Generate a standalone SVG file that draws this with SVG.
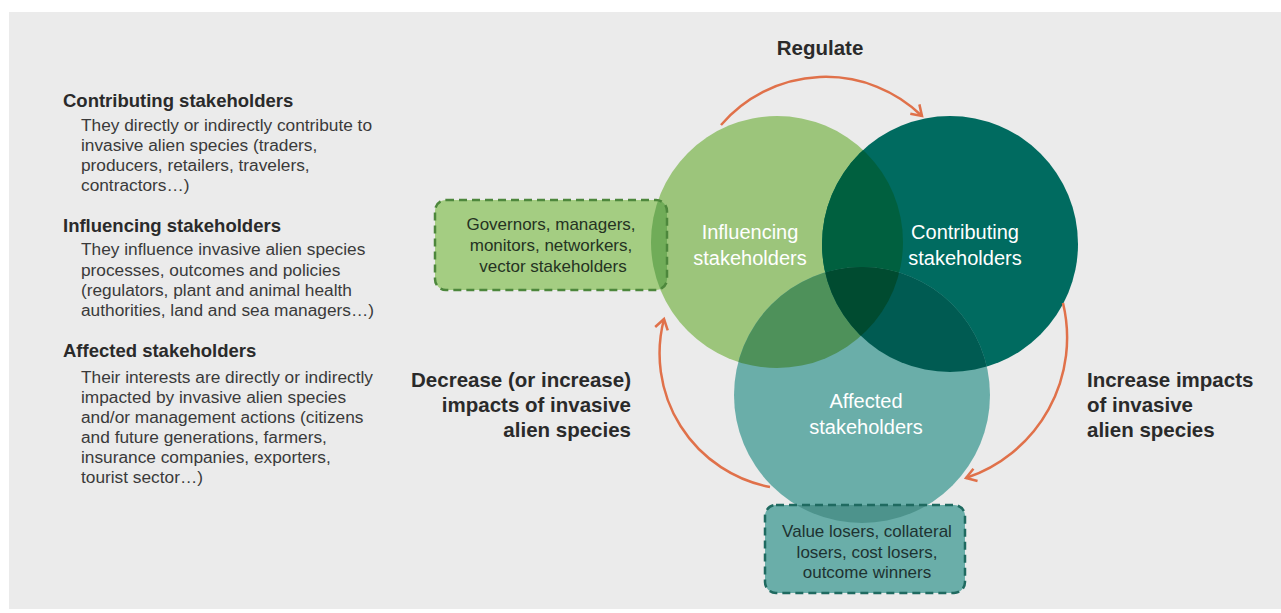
<svg xmlns="http://www.w3.org/2000/svg" width="1281" height="613" viewBox="0 0 1281 613">
<style>
.hd{font-family:"Liberation Sans",Arial,sans-serif;font-size:18.5px;font-weight:bold;fill:#2a2a2a}
.bd{font-family:"Liberation Sans",Arial,sans-serif;font-size:17.3px;fill:#3a3a3a}
.lb{font-family:"Liberation Sans",Arial,sans-serif;font-size:20.5px;font-weight:bold;fill:#2a2a2a}
.cl{font-family:"Liberation Sans",Arial,sans-serif;font-size:20px;fill:#ffffff;text-anchor:middle}
.bx{font-family:"Liberation Sans",Arial,sans-serif;font-size:17px;text-anchor:middle}
.arr{fill:none;stroke:#e0714a;stroke-width:2.5;marker-end:url(#ah)}
</style>
<defs>
<marker id="ah" markerUnits="userSpaceOnUse" viewBox="0 0 16 16" refX="13" refY="8" markerWidth="16" markerHeight="16" orient="auto">
<path d="M3,1.5 L13,8 L3,14.5" fill="none" stroke="#e0714a" stroke-width="2.5"/>
</marker>
<clipPath id="cI"><circle cx="777" cy="242" r="126"/></clipPath>
<clipPath id="cC"><circle cx="950" cy="244" r="128"/></clipPath>
<clipPath id="cA"><circle cx="862" cy="395" r="128"/></clipPath>
</defs>
<rect x="0" y="0" width="1281" height="613" fill="#ffffff"/>
<rect x="9" y="12" width="1272" height="597" fill="#ebebeb"/>

<g id="legend">
<text class="hd" x="63" y="107">Contributing stakeholders</text>
<text class="bd" x="81" y="131">They directly or indirectly contribute to</text>
<text class="bd" x="81" y="151">invasive alien species (traders,</text>
<text class="bd" x="81" y="171">producers, retailers, travelers,</text>
<text class="bd" x="81" y="191">contractors…)</text>
<text class="hd" x="63" y="232">Influencing stakeholders</text>
<text class="bd" x="81" y="255">They influence invasive alien species</text>
<text class="bd" x="81" y="276">processes, outcomes and policies</text>
<text class="bd" x="81" y="296">(regulators, plant and animal health</text>
<text class="bd" x="81" y="316">authorities, land and sea managers…)</text>
<text class="hd" x="63" y="357">Affected stakeholders</text>
<text class="bd" x="81" y="383">Their interests are directly or indirectly</text>
<text class="bd" x="81" y="403">impacted by invasive alien species</text>
<text class="bd" x="81" y="423">and/or management actions (citizens</text>
<text class="bd" x="81" y="443">and future generations, farmers,</text>
<text class="bd" x="81" y="463">insurance companies, exporters,</text>
<text class="bd" x="81" y="483">tourist sector…)</text>
</g>

<g id="influencing">
<circle cx="777" cy="242" r="126" fill="#9cc57b"/>
</g>
<g id="contributing">
<circle cx="950" cy="244" r="128" fill="#006b60"/>
<circle cx="950" cy="244" r="128" fill="#00603f" clip-path="url(#cI)"/>
</g>
<g id="affected">
<circle cx="862" cy="395" r="128" fill="#6aaea9"/>
<circle cx="862" cy="395" r="128" fill="#4e915a" clip-path="url(#cI)"/>
<g clip-path="url(#cC)">
<circle cx="862" cy="395" r="128" fill="#005b52"/>
<circle cx="862" cy="395" r="128" fill="#004b30" clip-path="url(#cI)"/>
</g>
</g>
<g id="circle-labels">
<text class="cl" x="750" y="239">Influencing</text>
<text class="cl" x="750" y="265">stakeholders</text>
<text class="cl" x="965" y="239">Contributing</text>
<text class="cl" x="965" y="265">stakeholders</text>
<text class="cl" x="866" y="408">Affected</text>
<text class="cl" x="866" y="434">stakeholders</text>
</g>

<g id="box-influencing">
<rect x="435" y="200" width="232" height="90" rx="11" fill="#a4cd82"/>
<rect x="435" y="200" width="232" height="90" rx="11" fill="#70ac58" clip-path="url(#cI)"/>
<rect x="435" y="200" width="232" height="90" rx="11" fill="none" stroke="#4d873c" stroke-width="2.5" stroke-dasharray="8,5"/>
<text class="bx" fill="#253322" x="551" y="230">Governors, managers,</text>
<text class="bx" fill="#253322" x="551" y="251">monitors, networkers,</text>
<text class="bx" fill="#253322" x="553" y="272">vector stakeholders</text>
</g>

<g id="box-affected">
<rect x="765" y="505" width="200" height="88" rx="11" fill="#6aaea9"/>
<rect x="765" y="505" width="200" height="88" rx="11" fill="#4d938c" clip-path="url(#cA)"/>
<rect x="765" y="505" width="200" height="88" rx="11" fill="none" stroke="#1f6a60" stroke-width="2.5" stroke-dasharray="8,5"/>
<text class="bx" fill="#1e3331" x="867" y="537">Value losers, collateral</text>
<text class="bx" fill="#1e3331" x="867" y="558">losers, cost losers,</text>
<text class="bx" fill="#1e3331" x="867" y="578">outcome winners</text>
</g>

<g id="connectors">
<path class="arr" d="M721,125 A138,138 0 0 1 922,116"/>
<path class="arr" d="M1063,303 A148,148 0 0 1 966,478"/>
<path class="arr" d="M770,487 A136,136 0 0 1 664,319"/>
</g>

<g id="arrow-labels">
<text class="lb" x="820" y="55" text-anchor="middle">Regulate</text>
<text class="lb" x="1087" y="387">Increase impacts</text>
<text class="lb" x="1087" y="412">of invasive</text>
<text class="lb" x="1087" y="437">alien species</text>
<text class="lb" x="631" y="387" text-anchor="end">Decrease (or increase)</text>
<text class="lb" x="631" y="412" text-anchor="end">impacts of invasive</text>
<text class="lb" x="631" y="437" text-anchor="end">alien species</text>
</g>
</svg>
